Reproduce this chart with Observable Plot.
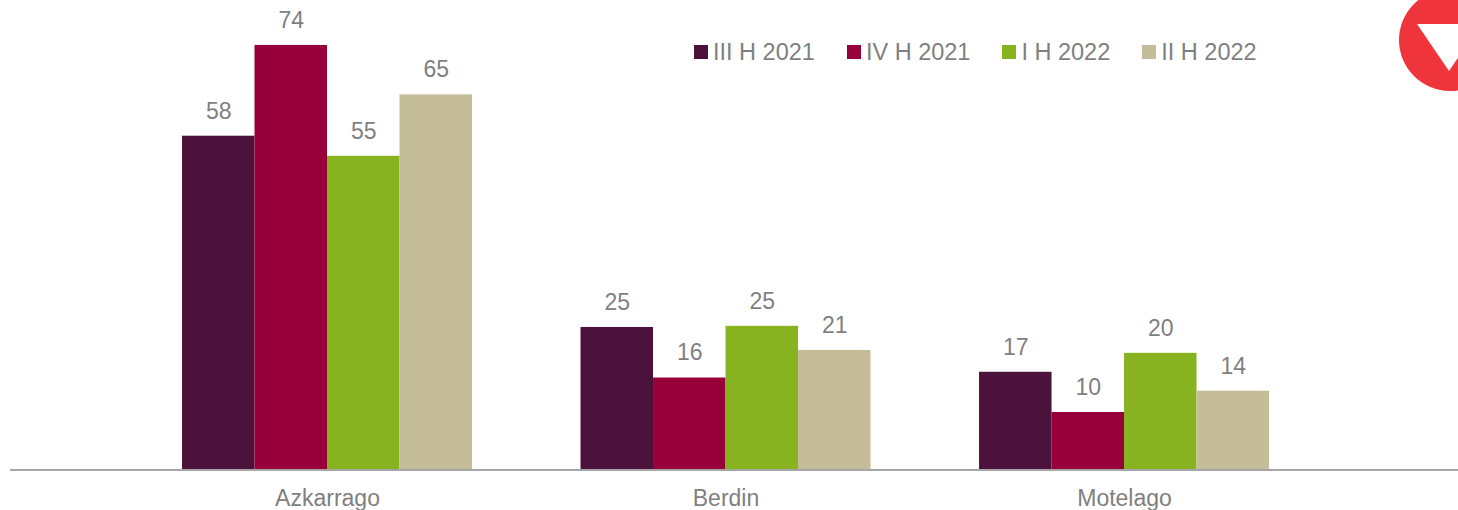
<!DOCTYPE html>
<html>
<head>
<meta charset="utf-8">
<script src="https://cdn.jsdelivr.net/npm/d3@7"></script>
<script src="https://cdn.jsdelivr.net/npm/@observablehq/plot@0.6"></script>
<style>
  html, body { margin: 0; padding: 0; background: #fff; }
  #wrap { position: relative; width: 1458px; height: 510px; overflow: hidden; font-family: "Liberation Sans", Arial, sans-serif; }
  #legend { position: absolute; top: 39px; left: 694px; display: flex; gap: 32px; font-size: 23.5px; color: #7f7f7f; line-height: 26px; }
  #legend .item { display: flex; align-items: center; }
  #legend .sw { width: 14px; height: 14px; margin-right: 5px; }
  #logo { position: absolute; left: 0; top: 0; }
</style>
</head>
<body>
<div id="wrap">
  <div id="chart"></div>
  <div id="legend"></div>
  <svg id="logo" width="1458" height="510" style="pointer-events:none">
    <circle cx="1450" cy="40" r="51" fill="#ef343c"></circle>
    <polygon points="1417,24 1481,24 1449,71" fill="#fff"></polygon>
  </svg>
</div>
<script>
const categories = ["Azkarrago", "Berdin", "Motelago"];
const series = ["III H 2021", "IV H 2021", "I H 2022", "II H 2022"];
const colors = ["#4b133b", "#97003b", "#88b321", "#c5bd98"];
// bar heights (labels show them rounded)
const valuesIIIH2021 = [58.2, 24.9, 17.1];
const valuesIVH2021 = [74, 16.1, 10.1];
const valuesIH2022 = [54.7, 25.1, 20.4];
const valuesIIH2022 = [65.4, 20.9, 13.8];
const seriesValues = [valuesIIIH2021, valuesIVH2021, valuesIH2022, valuesIIH2022];

const data = [];
categories.forEach((c, i) => {
  series.forEach((s, j) => {
    data.push({category: c, series: s, value: seriesValues[j][i]});
  });
});

const WIDTH = 1458;
const MARGIN_LEFT = 10;
const MARGIN_RIGHT = 0;

const baseline = Plot.frame({
  facet: "super",
  render: (index, scales) => {
    const y0 = scales.y(0);
    return d3.create("svg:line")
      .attr("x1", MARGIN_LEFT)
      .attr("x2", WIDTH - MARGIN_RIGHT)
      .attr("y1", y0)
      .attr("y2", y0)
      .attr("stroke", "#a6a6a6")
      .attr("stroke-width", 2)
      .node();
  }
});

const chart = Plot.plot({
  width: WIDTH,
  height: 510,
  marginLeft: MARGIN_LEFT,
  marginRight: MARGIN_RIGHT,
  marginTop: 10.5,
  marginBottom: 40,
  style: {fontFamily: "'Liberation Sans', Arial, sans-serif", background: "transparent"},
  fx: {domain: categories, paddingInner: 0.2723, paddingOuter: 0.4529, align: 0.4765, round: false, label: null},
  x: {domain: series, padding: 0, round: false, axis: null},
  y: {domain: [0, 80], axis: null},
  color: {domain: series, range: colors},
  marks: [
    Plot.barY(data, {fx: "category", x: "series", y: "value", fill: "series", inset: 0}),
    Plot.text(data, {fx: "category", x: "series", y: "value", text: d => String(Math.round(d.value)), dy: -25, fontSize: 23, fill: "#7f7f7f"}),
    baseline,
    Plot.axisFx({anchor: "bottom", tickSize: 0, tickPadding: 19, fontSize: 23, fill: "#7f7f7f", label: null})
  ]
});
document.getElementById("chart").appendChild(chart);

const legend = document.getElementById("legend");
series.forEach((s, j) => {
  const item = document.createElement("div");
  item.className = "item";
  const sw = document.createElement("span");
  sw.className = "sw";
  sw.style.background = colors[j];
  const t = document.createElement("span");
  t.textContent = s;
  item.appendChild(sw);
  item.appendChild(t);
  legend.appendChild(item);
});
</script>
</body>
</html>
